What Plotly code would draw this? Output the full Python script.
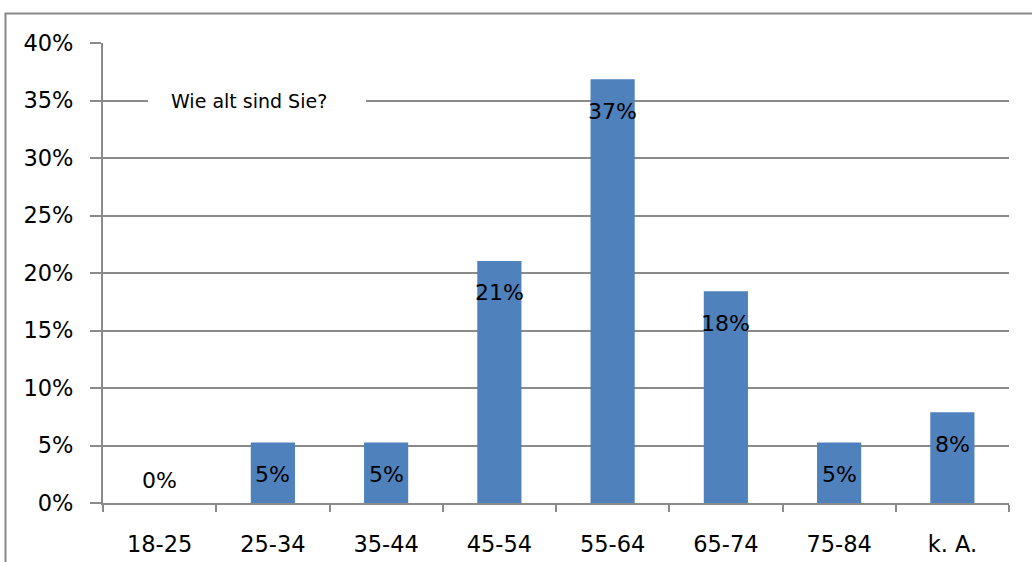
import plotly.graph_objects as go

# Age groups and their share of respondents (percent)
categories = ["18-25", "25-34", "35-44", "45-54", "55-64", "65-74", "75-84", "k. A."]
shares = [0.0, 5.26, 5.26, 21.05, 36.84, 18.42, 5.26, 7.89]
y_ticks = [0, 5, 10, 15, 20, 25, 30, 35, 40]
y_tick_labels = [f"{t}%" for t in y_ticks]
title_text = "Wie alt sind Sie?"

FONT = "DejaVu Sans"
GRID = "#8a8a8a"
BAR = "#4f81bd"

fig = go.Figure(
    go.Bar(
        x=categories,
        y=shares,
        marker=dict(color=BAR, line=dict(width=0)),
        hoverinfo="skip",
    )
)

# Value labels just below the top of each bar
for cat, val in zip(categories, shares):
    fig.add_annotation(
        x=cat, y=val, xref="x", yref="y",
        text=f"{val:.0f}%", showarrow=False,
        yanchor="middle", yshift=(23 if val == 0 else -32),
        font=dict(family=FONT, size=22, color="#000000"),
    )

# White box behind the chart title, interrupting the 35% gridline
fig.add_shape(
    type="rect", xref="paper", yref="y",
    x0=(148 - 103) / 906, x1=(366 - 103) / 906, y0=33.6, y1=36.4,
    fillcolor="white", line=dict(width=0), layer="above",
)
fig.add_annotation(
    x=(249 - 103) / 906, y=35, xref="paper", yref="y",
    text=title_text, showarrow=False, xanchor="center", yanchor="middle",
    font=dict(family=FONT, size=19, color="#000000"),
)

# Outer chart frame
fig.add_shape(
    type="rect", xref="paper", yref="paper",
    x0=(5.5 - 103) / 906, x1=1.2, y0=-0.3, y1=(503 - 13.5) / 460,
    line=dict(color=GRID, width=2), fillcolor="rgba(0,0,0,0)", layer="above",
)

fig.update_layout(
    width=1032, height=562,
    margin=dict(l=103, r=23, t=43, b=59),
    paper_bgcolor="white", plot_bgcolor="white",
    bargap=0.61, showlegend=False,
    font=dict(family=FONT, size=22, color="#000000"),
)
fig.update_xaxes(
    type="category", tickson="boundaries", automargin=False,
    ticks="outside", ticklen=7, tickwidth=2, tickcolor=GRID,
    showline=True, linecolor=GRID, linewidth=2,
    showgrid=False, ticklabelstandoff=20,
    tickfont=dict(family=FONT, size=22.5, color="#000000"),
)
fig.update_yaxes(
    range=[0, 40], tickvals=y_ticks, ticktext=y_tick_labels, automargin=False,
    ticks="outside", ticklen=11, tickwidth=2, tickcolor=GRID,
    showline=True, linecolor=GRID, linewidth=2,
    showgrid=True, gridcolor=GRID, gridwidth=2,
    zeroline=False, ticklabelstandoff=12,
    tickfont=dict(family=FONT, size=22.5, color="#000000"),
)

fig.write_html("out.html")
